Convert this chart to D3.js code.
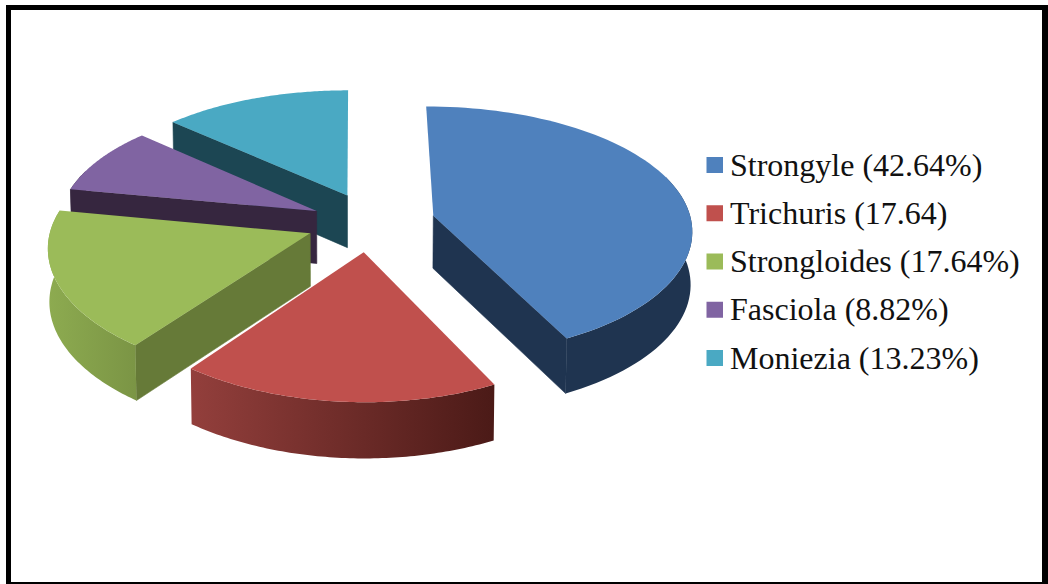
<!DOCTYPE html>
<html><head><meta charset="utf-8">
<script src="https://cdnjs.cloudflare.com/ajax/libs/d3/7.9.0/d3.min.js"></script>
<style>html,body{margin:0;padding:0;background:#fff;overflow:hidden}svg{display:block}</style>
</head><body><svg id="c" width="1048" height="584"></svg>
<script>
const names = ["Strongyle","Trichuris","Strongloides","Fasciola","Moniezia"];
const values = [42.64,17.64,17.64,8.82,13.23];
const labels = ["Strongyle (42.64%)","Trichuris (17.64)","Strongloides (17.64%)","Fasciola (8.82%)","Moniezia (13.23%)"];
const topColors = ["#4f81bd","#c0504d","#9bbb59","#8064a2","#4aa9c3"];
const cutColors = ["#1f3450","#8a3a38","#667a38","#36263f","#1c4653"];
const wallFrom = ["#1f3450","#933f3c","#8dab50","#36263f","#1c4653"];
const wallTo   = ["#1f3450","#4b1a17","#7b9545","#36263f","#1c4653"];
const explodeX = [0.305,0.033,-0.172,-0.150,-0.030];
const explodeY = [0.030,0.318,0.172,-0.008,-0.138];
const drawOrder = [4,3,2,1,0];

const cx=355, cy=212, rx=256, ry=121.5, kx=0.1, ky=0.12, kz=0.05, depth=52.5, shrink=0.995;
const svg=d3.select("#c");
svg.append("rect").attr("width",1048).attr("height",584).attr("fill","#fff");
svg.append("rect").attr("x",6).attr("y",5).attr("width",1042).attr("height",579).attr("fill","#000");
svg.append("rect").attr("x",11).attr("y",10).attr("width",1031).attr("height",572).attr("fill","#fff");
const defs=svg.append("defs");

const px=d3.scaleLinear().domain([0,1]).range([0,rx]);
const py=d3.scaleLinear().domain([0,1]).range([0,ry]);
function project(x,y,low){
  const fx=1/(1-kx*y), fy=1/(1-ky*y), fz=1/(1-kz*y);
  const sx=px(x)*fx, sy=py(y)*fy;
  return low ? [cx+sx*shrink, cy+sy+depth*fz] : [cx+sx, cy+sy];
}
const pie=d3.pie().sort(null).startAngle(0.0).endAngle(2*Math.PI).value(d=>d);
const arcs=pie(values);
const line=d3.line();

drawOrder.forEach(i=>{
  const a=arcs[i], ex=explodeX[i], ey=explodeY[i];
  const g=svg.append("g");
  const angle=d3.scaleLinear().domain([0,1]).range([a.startAngle,a.endAngle]);
  const ts=d3.range(0,1.0001,1/80);
  const pt=(t,low)=>project(ex+Math.sin(angle(t)),ey-Math.cos(angle(t)),low);
  const top=ts.map(t=>pt(t,false)), bot=ts.map(t=>pt(t,true));
  const ap=project(ex,ey,false), apL=project(ex,ey,true);
  // cut faces, only those turned toward the viewer
  if(Math.sin(a.startAngle)<0)
    g.append("path").attr("d",line([ap,pt(0,false),pt(0,true),apL])+"Z")
      .attr("fill",cutColors[i]).attr("stroke",cutColors[i]).attr("stroke-width",0.6);
  if(Math.sin(a.endAngle)>0)
    g.append("path").attr("d",line([ap,pt(1,false),pt(1,true),apL])+"Z")
      .attr("fill",cutColors[i]).attr("stroke",cutColors[i]).attr("stroke-width",0.6);
  // outer wall
  const xs=d3.extent(top,d=>d[0]);
  const id="w"+i;
  const lg=defs.append("linearGradient").attr("id",id).attr("gradientUnits","userSpaceOnUse")
    .attr("x1",xs[0]).attr("x2",xs[1]).attr("y1",0).attr("y2",0);
  lg.append("stop").attr("offset",0).attr("stop-color",wallFrom[i]);
  lg.append("stop").attr("offset",1).attr("stop-color",wallTo[i]);
  const visTop=top.filter((d,j)=>Math.cos(angle(ts[j]))<0.35);
  const visBot=bot.filter((d,j)=>Math.cos(angle(ts[j]))<0.35);
  if(visTop.length>1)
    g.append("path").attr("d",line(visTop.concat(visBot.slice().reverse()))+"Z").attr("fill","url(#"+id+")");
  // top
  g.append("path").attr("d",line([ap].concat(top))+"Z").attr("fill",topColors[i]);
});

const ly=d3.scalePoint().domain(names).range([165,358]);
const leg=svg.append("g");
names.forEach((n,i)=>{
  leg.append("rect").attr("x",706.5).attr("y",ly(n)-8).attr("width",16.5).attr("height",16).attr("fill",topColors[i]);
  leg.append("text").attr("x",730).attr("y",ly(n)+10.5)
    .attr("font-family","'Liberation Serif','Times New Roman',serif").attr("font-size",32).attr("fill","#111").text(labels[i]);
});
</script></body></html>
